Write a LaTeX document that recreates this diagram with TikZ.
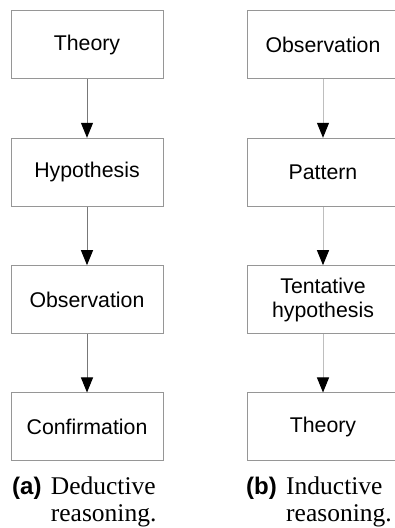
\documentclass[tikz,border=0pt]{standalone}
\usepackage{fontspec}
\setmainfont{Liberation Serif}
\setsansfont{Liberation Sans}
\usepackage{tikz}
\usetikzlibrary{arrows.meta,positioning}
\definecolor{boxline}{RGB}{150,150,150}
\definecolor{leftarrow}{RGB}{120,120,120}
\definecolor{rightarrow}{RGB}{190,190,190}

\begin{document}
\begin{tikzpicture}[x=1pt, y=1pt,
  font=\sffamily\fontsize{21.3}{24}\selectfont,
  >={Triangle[width=12pt, length=15pt, color=black]},
  stage/.style={draw=boxline, line width=1pt, minimum width=152pt, minimum height=68pt, align=center, inner sep=0pt},
  flow/.style={->, line width=1pt},
  subtag/.style={font=\sffamily\bfseries\fontsize{24}{26}\selectfont, inner sep=0pt, anchor=base west},
  subtxt/.style={font=\rmfamily\fontsize{25.5}{28}\selectfont, align=left, inner sep=0pt, anchor=base west}]
  \clip (0,0) rectangle (395,528);
  % (a) deductive
  \node[stage] (a1) at (87,483) {Theory};
  \node[stage] (a2) at (87,355.7) {Hypothesis};
  \node[stage] (a3) at (87,228.3) {Observation};
  \node[stage] (a4) at (87,101) {Confirmation};
  \draw[flow, leftarrow] (a1) -- (a2);
  \draw[flow, leftarrow] (a2) -- (a3);
  \draw[flow, leftarrow] (a3) -- (a4);
  % (b) inductive
  \node[stage] (b1) at (323,483) {Observation};
  \node[stage] (b2) at (323,355.7) {Pattern};
  \node[stage] (b3) at (323,228.3) {Tentative\\hypothesis};
  \node[stage] (b4) at (323,101) {Theory};
  \draw[flow, rightarrow] (b1) -- (b2);
  \draw[flow, rightarrow] (b2) -- (b3);
  \draw[flow, rightarrow] (b3) -- (b4);
  % captions (base of a two-line node is its last line)
  \node[subtag] (tagA) at (12,34) {(a)};
  \node[subtxt] (capA) at ([xshift=9pt, yshift=-28pt]tagA.base east) {Deductive\\reasoning.};
  \node[subtag] (tagB) at (246,34) {(b)};
  \node[subtxt] (capB) at ([xshift=9pt, yshift=-28pt]tagB.base east) {Inductive\\reasoning.};
\end{tikzpicture}
\end{document}
